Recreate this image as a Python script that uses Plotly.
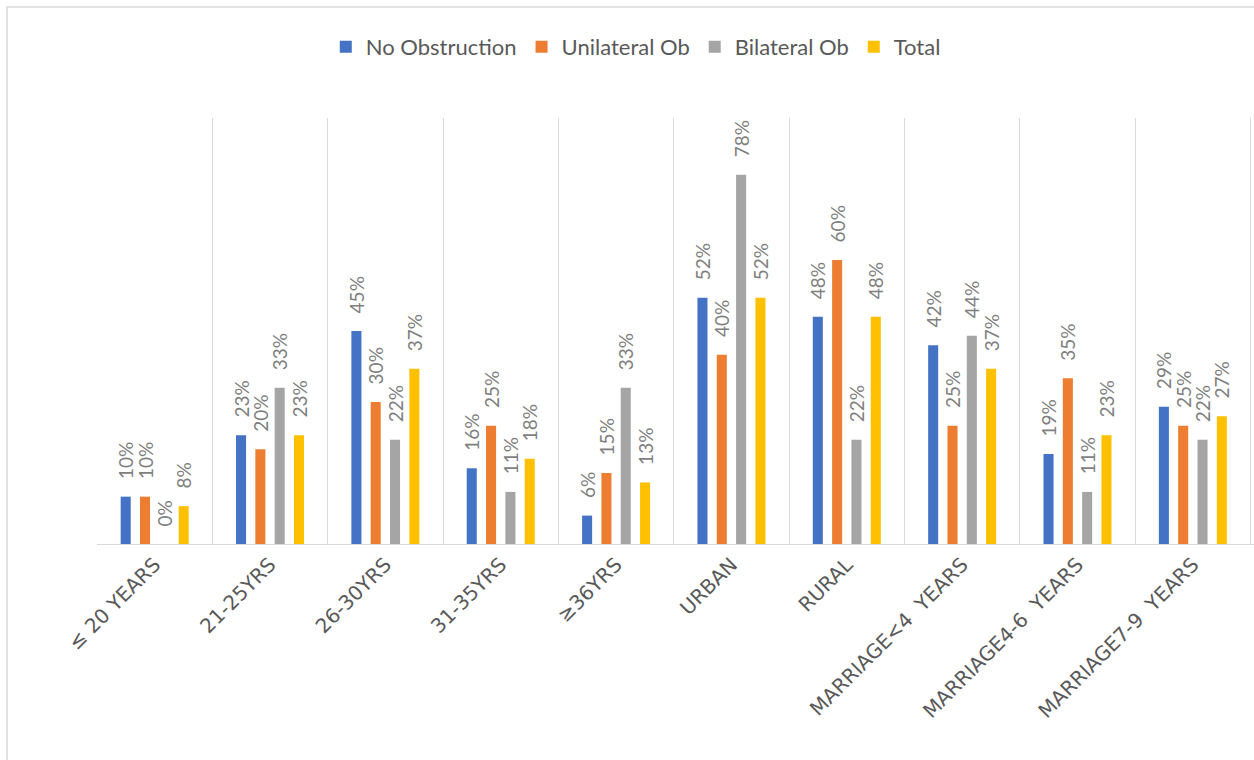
import plotly.graph_objects as go

categories = ["≤ 20 YEARS", "21-25YRS", "26-30YRS", "31-35YRS", "≥36YRS", "URBAN", "RURAL",
              "MARRIAGE<4 \u00a0YEARS", "MARRIAGE4-6 \u00a0YEARS", "MARRIAGE7-9 \u00a0YEARS"]
no_obstruction = [0.10, 0.23, 0.45, 0.16, 0.06, 0.52, 0.48, 0.42, 0.19, 0.29]
unilateral_ob = [0.10, 0.20, 0.30, 0.25, 0.15, 0.40, 0.60, 0.25, 0.35, 0.25]
bilateral_ob = [0.00, 0.33, 0.22, 0.11, 0.33, 0.78, 0.22, 0.44, 0.11, 0.22]
total = [0.08, 0.23, 0.37, 0.18, 0.13, 0.52, 0.48, 0.37, 0.23, 0.27]

series = [
    ("No Obstruction", no_obstruction, "#4472C4"),
    ("Unilateral Ob", unilateral_ob, "#ED7D31"),
    ("Bilateral Ob", bilateral_ob, "#A5A5A5"),
    ("Total", total, "#FFC000"),
]

fig = go.Figure()
for name, vals, color in series:
    fig.add_trace(go.Bar(
        name=name, x=categories, y=vals,
        marker=dict(color=color, line=dict(width=0)),
        texttemplate="\u00a0\u00a0\u00a0%{y:.0%}", textposition="outside", textangle=-90,
        textfont=dict(family="Lato", size=19, color="#7F7F7F"),
        constraintext="none", cliponaxis=False,
    ))

W, H = 1254, 760
L, R, T, B = 97, 0, 118, 216
pw = W - L - R
ph = H - T - B

fig.update_layout(
    width=W, height=H,
    margin=dict(l=L, r=R, t=T, b=B, autoexpand=False),
    paper_bgcolor="white", plot_bgcolor="white",
    barmode="group", bargap=0.33, bargroupgap=0.48,
    legend=dict(orientation="h", xref="container", yref="container",
                x=0.507, y=1 - 47 / H, xanchor="center", yanchor="middle",
                font=dict(family="Lato", size=22, color="#595959"),
                itemclick=False),
    xaxis=dict(type="category", tickson="boundaries", showgrid=True,
               gridcolor="#D9D9D9", gridwidth=1,
               ticks="outside", ticklen=8, tickcolor="rgba(0,0,0,0)",
               showline=True, linecolor="#D9D9D9", linewidth=1,
               tickangle=-45, range=[-0.5, 9.53],
               tickfont=dict(family="DejaVu Sans", size=20, color="#595959"),
               automargin=False),
    yaxis=dict(range=[0, 0.9], visible=False, showgrid=False, zeroline=False),
    shapes=[dict(type="rect", xref="paper", yref="paper",
                 x0=(7 - L) / pw, x1=1.02, y0=-(B + 10) / ph, y1=(T + ph - 7) / ph,
                 line=dict(color="#D9D9D9", width=1.5), fillcolor="rgba(0,0,0,0)",
                 layer="below")],
)

fig.write_html("out.html")
